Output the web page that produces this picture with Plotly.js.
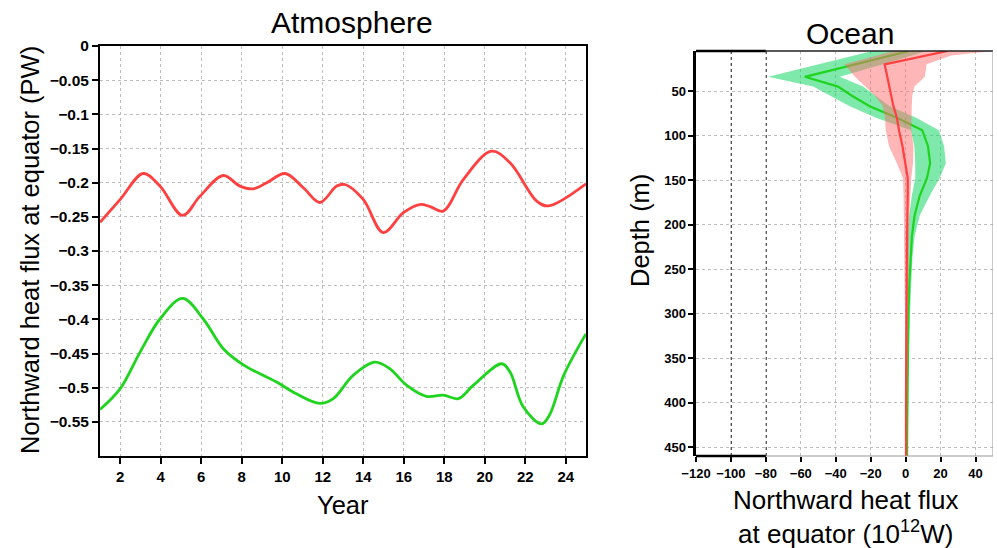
<!DOCTYPE html>
<html>
<head>
<meta charset="utf-8">
<script src="https://cdn.plot.ly/plotly-3.0.1.min.js"></script>
<style>html,body{margin:0;padding:0;background:#fff;}#chart{width:997px;height:548px;}</style>
</head>
<body>
<div id="chart"></div>
<script>
// ---------- Atmosphere (left panel) ----------
const atmRedYear  = [1, 2, 3.14, 3.96, 5.08, 5.94, 7.09, 7.91, 8.57, 9.23, 10.14, 11.04, 11.86, 12.69, 13.1, 14.0, 14.99, 15.98, 16.8, 17.3, 17.95, 18.94, 20.34, 21.25, 22.57, 23.14, 25];
const atmRedFlux  = [-0.258, -0.2245, -0.1866, -0.205, -0.248, -0.2197, -0.1895, -0.205, -0.209, -0.2002, -0.1866, -0.2075, -0.229, -0.205, -0.2027, -0.2245, -0.273, -0.244, -0.232, -0.235, -0.2416, -0.1954, -0.154, -0.171, -0.227, -0.234, -0.2017];
const atmGreenYear = [1, 2, 2.98, 3.96, 5.08, 6.1, 7.09, 8.08, 9.72, 10.7, 11.86, 12.52, 13.5, 14.58, 15.32, 16.15, 17.13, 17.95, 18.7, 19.43, 20.84, 21.25, 21.9, 22.81, 23.2, 23.9, 25];
const atmGreenFlux = [-0.532, -0.5015, -0.448, -0.3995, -0.3693, -0.3995, -0.443, -0.4666, -0.4918, -0.509, -0.523, -0.516, -0.482, -0.4627, -0.4725, -0.4967, -0.5128, -0.511, -0.516, -0.4967, -0.465, -0.477, -0.528, -0.553, -0.540, -0.482, -0.4213];
const atmYearTicks = [2, 4, 6, 8, 10, 12, 14, 16, 18, 20, 22, 24];
const atmFluxTicks = [0, -0.05, -0.1, -0.15, -0.2, -0.25, -0.3, -0.35, -0.4, -0.45, -0.5, -0.55];
const atmFluxTickText = ["0", "\u22120.05", "\u22120.1", "\u22120.15", "\u22120.2", "\u22120.25", "\u22120.3", "\u22120.35", "\u22120.4", "\u22120.45", "\u22120.5", "\u22120.55"];

// ---------- Ocean (right panel) ----------
const oceanDepth     = [5, 10, 20, 34, 45, 55, 67, 80, 94, 112, 131, 148, 168, 190, 213, 239, 270, 300, 350, 400, 460];
const oceanGreenMean = [2, -8, -28, -57.7, -38.7, -31, -20.6, -5, 9.5, 12.8, 14, 12.2, 8, 5.1, 3.6, 2.7, 2, 1.6, 1.2, 1, 0.8];
const oceanGreenLow  = [-19, -29, -50, -78.7, -53, -43.5, -32, -17, 3, 5, 5.5, 5.5, 3.5, 2, 1.3, 1.2, 0.9, 0.7, 0.5, 0.4, 0.3];
const oceanGreenHigh = [12, 4, -13, -37.7, -24.4, -17.4, -9.1, 6, 19, 22, 23, 19.4, 13.7, 8, 5.1, 3.8, 3, 2.5, 1.8, 1.4, 1.2];
const oceanRedMean   = [24, 12, -12, -10.5, -9.3, -8.3, -7, -5, -3.8, -1.8, 0, 1.2, 1.2, 0.9, 0.8, 0.7, 0.5, 0.4, 0.3, 0.2, 0.2];
const oceanRedLow    = [-7, -16, -35, -29, -23, -17.7, -13, -11.8, -11.4, -9.5, -5, -1.5, -1.2, -1, -0.8, -0.6, -0.5, -0.4, -0.3, -0.2, -0.1];
const oceanRedHigh   = [50, 26, 12, 11, 5, 3.8, 3.5, 3.3, 3.2, 4.5, 4.2, 3.2, 2.5, 2.1, 1.9, 1.7, 1.5, 1.2, 1, 0.8, 0.6];
const oceanFluxTicks = [-120, -100, -80, -60, -40, -20, 0, 20, 40];
const oceanFluxTickText = ["\u2212120", "\u2212100", "\u221280", "\u221260", "\u221240", "\u221220", "0", "20", "40"];
const oceanDepthTicks = [50, 100, 150, 200, 250, 300, 350, 400, 450];
const oceanDarkGrid = [-100, -80];

const RED = '#ff4040', GREEN = '#1fd41f';
const FAM = 'Liberation Sans';
const font = sz => ({family: FAM, size: sz, color: '#000'});
const boldFont = sz => ({family: FAM, size: sz, color: '#000', weight: 'bold'});

const traces = [
  {x: atmRedYear, y: atmRedFlux, type: 'scatter', mode: 'lines', line: {color: RED, width: 2.8, shape: 'spline', smoothing: 1}, xaxis: 'x', yaxis: 'y', hoverinfo: 'skip'},
  {x: atmGreenYear, y: atmGreenFlux, type: 'scatter', mode: 'lines', line: {color: GREEN, width: 2.8, shape: 'spline', smoothing: 1}, xaxis: 'x', yaxis: 'y', hoverinfo: 'skip'},
  {x: oceanGreenLow, y: oceanDepth, type: 'scatter', mode: 'lines', line: {width: 0, color: 'rgba(0,0,0,0)'}, xaxis: 'x2', yaxis: 'y2', hoverinfo: 'skip'},
  {x: oceanGreenHigh, y: oceanDepth, type: 'scatter', mode: 'lines', fill: 'tonextx', fillcolor: 'rgba(20,215,100,0.55)', line: {width: 0, color: 'rgba(0,0,0,0)'}, xaxis: 'x2', yaxis: 'y2', hoverinfo: 'skip'},
  {x: oceanGreenMean, y: oceanDepth, type: 'scatter', mode: 'lines', line: {color: GREEN, width: 2.2}, xaxis: 'x2', yaxis: 'y2', hoverinfo: 'skip'},
  {x: oceanRedLow, y: oceanDepth, type: 'scatter', mode: 'lines', line: {width: 0, color: 'rgba(0,0,0,0)'}, xaxis: 'x2', yaxis: 'y2', hoverinfo: 'skip'},
  {x: oceanRedHigh, y: oceanDepth, type: 'scatter', mode: 'lines', fill: 'tonextx', fillcolor: 'rgba(255,110,110,0.5)', line: {width: 0, color: 'rgba(0,0,0,0)'}, xaxis: 'x2', yaxis: 'y2', hoverinfo: 'skip'},
  {x: oceanRedMean, y: oceanDepth, type: 'scatter', mode: 'lines', line: {color: RED, width: 2.2}, xaxis: 'x2', yaxis: 'y2', hoverinfo: 'skip'}
];

const shapes = [
  {type: 'line', xref: 'x2', yref: 'y2 domain', x0: -120, x1: -80, y0: 1, y1: 1, line: {color: '#000', width: 2.5}},
  {type: 'line', xref: 'x2', yref: 'y2 domain', x0: -80, x1: 50, y0: 1, y1: 1, line: {color: '#222', width: 1.5}},
  {type: 'line', xref: 'x2', yref: 'y2 domain', x0: -120, x1: -80, y0: 0, y1: 0, line: {color: '#000', width: 2.5}},
  {type: 'line', xref: 'x2', yref: 'y2 domain', x0: -80, x1: 50, y0: 0, y1: 0, line: {color: '#999', width: 1}},
  {type: 'line', xref: 'x2', yref: 'y2 domain', x0: 50, x1: 50, y0: 0, y1: 1, line: {color: '#999', width: 1}}
];
oceanDarkGrid.forEach(v => shapes.push({type: 'line', layer: 'below', xref: 'x2', yref: 'y2 domain', x0: v, x1: v, y0: 0, y1: 1, line: {color: '#000', width: 1.5, dash: 'dot'}}));

// plot area: x 100..993 px (893 wide), y 46..456 px (410 tall)
const annotations = [
  {text: 'Atmosphere', xref: 'paper', yref: 'paper', x: 0.2822, y: 1.0585, xanchor: 'center', yanchor: 'middle', showarrow: false, font: font(30)},
  {text: 'Ocean', xref: 'paper', yref: 'paper', x: 0.8399, y: 1.0317, xanchor: 'center', yanchor: 'middle', showarrow: false, font: font(30)},
  {text: 'Year', xref: 'paper', yref: 'paper', x: 0.2721, y: -0.1195, xanchor: 'center', yanchor: 'middle', showarrow: false, font: font(25.5)},
  {text: 'Northward heat flux at equator (PW)', xref: 'paper', yref: 'paper', x: -0.0784, y: 0.5024, xanchor: 'center', yanchor: 'middle', textangle: -90, showarrow: false, font: font(25.5)},
  {text: 'Depth (m)', xref: 'paper', yref: 'paper', x: 0.6047, y: 0.5512, xanchor: 'center', yanchor: 'middle', textangle: -90, showarrow: false, font: font(25.5)},
  {text: 'Northward heat flux<br>at equator (10<sup>12</sup>W)', xref: 'paper', yref: 'paper', x: 0.8343, y: -0.1488, xanchor: 'center', yanchor: 'middle', align: 'center', showarrow: false, font: font(26)}
];

const axisCommon = () => ({ticks: 'outside', tickwidth: 2, tickcolor: '#000', tickmode: 'array',
  showgrid: true, gridcolor: '#bdbdbd', griddash: 'dot', gridwidth: 1, zeroline: false});

const layout = {
  width: 997, height: 548,
  margin: {l: 100, r: 4, t: 46, b: 92, pad: 0},
  paper_bgcolor: '#fff', plot_bgcolor: '#fff',
  showlegend: false,
  xaxis: Object.assign(axisCommon(), {domain: [0, 0.5442], range: [1, 25], tickvals: atmYearTicks,
    tickfont: boldFont(15), ticklen: 6, showline: true, linewidth: 2, linecolor: '#000', mirror: true, anchor: 'y'}),
  yaxis: Object.assign(axisCommon(), {domain: [0, 1], range: [-0.6, 0], tickvals: atmFluxTicks, ticktext: atmFluxTickText,
    tickfont: boldFont(15.5), ticklen: 6, showline: true, linewidth: 2, linecolor: '#000', mirror: true, anchor: 'x'}),
  xaxis2: Object.assign(axisCommon(), {domain: [0.6674, 1], range: [-120, 50], tickvals: oceanFluxTicks, ticktext: oceanFluxTickText,
    tickfont: boldFont(13), ticklen: 5, showline: false, anchor: 'y2'}),
  yaxis2: Object.assign(axisCommon(), {domain: [0, 0.9878], range: [460, 5], tickvals: oceanDepthTicks,
    tickfont: boldFont(13), ticklen: 5, showline: true, linewidth: 2.5, linecolor: '#000', mirror: false, anchor: 'x2'}),
  shapes: shapes,
  annotations: annotations
};

Plotly.newPlot('chart', traces, layout, {displayModeBar: false, staticPlot: true});
</script>
</body>
</html>
